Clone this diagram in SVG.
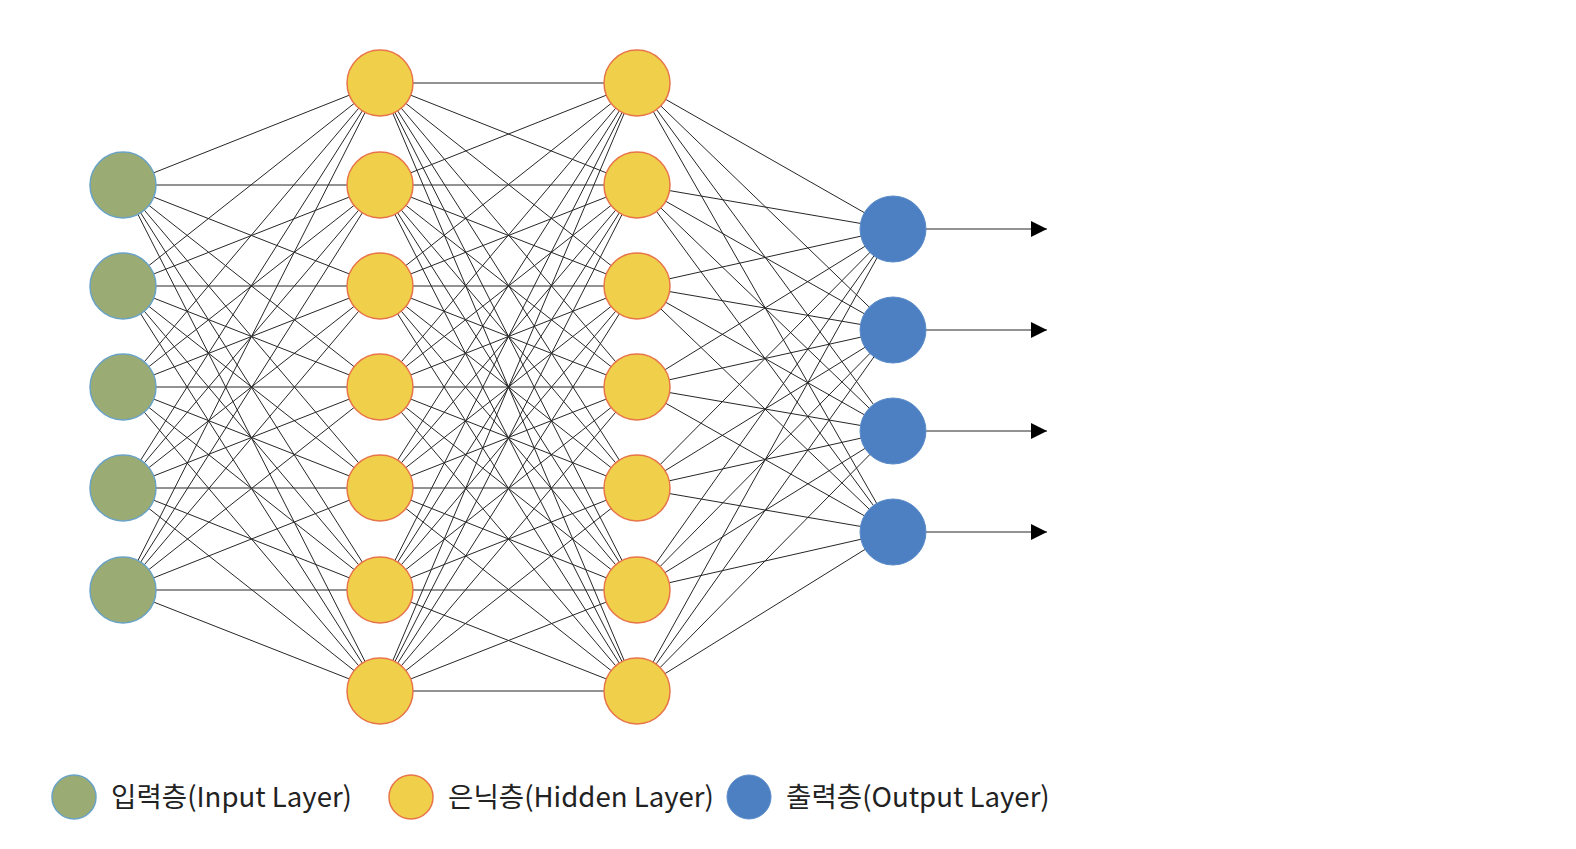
<svg xmlns="http://www.w3.org/2000/svg" width="1576" height="849" viewBox="0 0 1576 849">
<defs>
<style>
.in{fill:#9aab73;stroke:#6aa3c6;stroke-width:1.5}
.hid{fill:#f0d04a;stroke:#e8744a;stroke-width:1.5}
.out{fill:#4d80c3;stroke:#5a8bc8;stroke-width:1}
.e{stroke:#262626;stroke-width:1;fill:none}
.lbl{font-family:"Noto Sans CJK KR","Noto Sans",sans-serif;font-size:27.6px;fill:#222}
</style>
<marker id="arr" viewBox="0 0 10 10" refX="10" refY="5" markerWidth="16" markerHeight="16" markerUnits="userSpaceOnUse" orient="auto"><path d="M0,0 L10,5 L0,10 Z" fill="#000"/></marker>
</defs>
<rect width="1576" height="849" fill="#fff"/>
<g id="connectors">
<!-- input -> hidden1 -->
<path class="e" d="M123,185L380,83M123,185L380,185M123,185L380,286M123,185L380,387M123,185L380,488M123,185L380,590M123,185L380,691
M123,286L380,83M123,286L380,185M123,286L380,286M123,286L380,387M123,286L380,488M123,286L380,590M123,286L380,691
M123,387L380,83M123,387L380,185M123,387L380,286M123,387L380,387M123,387L380,488M123,387L380,590M123,387L380,691
M123,488L380,83M123,488L380,185M123,488L380,286M123,488L380,387M123,488L380,488M123,488L380,590M123,488L380,691
M123,590L380,83M123,590L380,185M123,590L380,286M123,590L380,387M123,590L380,488M123,590L380,590M123,590L380,691"/>
<!-- hidden1 -> hidden2 -->
<path class="e" d="M380,83L637,83M380,83L637,185M380,83L637,286M380,83L637,387M380,83L637,488M380,83L637,590M380,83L637,691
M380,185L637,83M380,185L637,185M380,185L637,286M380,185L637,387M380,185L637,488M380,185L637,590M380,185L637,691
M380,286L637,83M380,286L637,185M380,286L637,286M380,286L637,387M380,286L637,488M380,286L637,590M380,286L637,691
M380,387L637,83M380,387L637,185M380,387L637,286M380,387L637,387M380,387L637,488M380,387L637,590M380,387L637,691
M380,488L637,83M380,488L637,185M380,488L637,286M380,488L637,387M380,488L637,488M380,488L637,590M380,488L637,691
M380,590L637,83M380,590L637,185M380,590L637,286M380,590L637,387M380,590L637,488M380,590L637,590M380,590L637,691
M380,691L637,83M380,691L637,185M380,691L637,286M380,691L637,387M380,691L637,488M380,691L637,590M380,691L637,691"/>
<!-- hidden2 -> output -->
<path class="e" d="M637,83L893,229M637,83L893,330M637,83L893,431M637,83L893,532
M637,185L893,229M637,185L893,330M637,185L893,431M637,185L893,532
M637,286L893,229M637,286L893,330M637,286L893,431M637,286L893,532
M637,387L893,229M637,387L893,330M637,387L893,431M637,387L893,532
M637,488L893,229M637,488L893,330M637,488L893,431M637,488L893,532
M637,590L893,229M637,590L893,330M637,590L893,431M637,590L893,532
M637,691L893,229M637,691L893,330M637,691L893,431M637,691L893,532"/>
<!-- outputs -->
<path class="e" marker-end="url(#arr)" d="M926,229L1047,229"/>
<path class="e" marker-end="url(#arr)" d="M926,330L1047,330"/>
<path class="e" marker-end="url(#arr)" d="M926,431L1047,431"/>
<path class="e" marker-end="url(#arr)" d="M926,532L1047,532"/>
</g>
<g id="input-layer">
<circle id="in1" class="in" cx="123" cy="185" r="33"/>
<circle id="in2" class="in" cx="123" cy="286" r="33"/>
<circle id="in3" class="in" cx="123" cy="387" r="33"/>
<circle id="in4" class="in" cx="123" cy="488" r="33"/>
<circle id="in5" class="in" cx="123" cy="590" r="33"/>
</g>
<g id="hidden-layer-1">
<circle id="h1a" class="hid" cx="380" cy="83" r="33"/>
<circle id="h1b" class="hid" cx="380" cy="185" r="33"/>
<circle id="h1c" class="hid" cx="380" cy="286" r="33"/>
<circle id="h1d" class="hid" cx="380" cy="387" r="33"/>
<circle id="h1e" class="hid" cx="380" cy="488" r="33"/>
<circle id="h1f" class="hid" cx="380" cy="590" r="33"/>
<circle id="h1g" class="hid" cx="380" cy="691" r="33"/>
</g>
<g id="hidden-layer-2">
<circle id="h2a" class="hid" cx="637" cy="83" r="33"/>
<circle id="h2b" class="hid" cx="637" cy="185" r="33"/>
<circle id="h2c" class="hid" cx="637" cy="286" r="33"/>
<circle id="h2d" class="hid" cx="637" cy="387" r="33"/>
<circle id="h2e" class="hid" cx="637" cy="488" r="33"/>
<circle id="h2f" class="hid" cx="637" cy="590" r="33"/>
<circle id="h2g" class="hid" cx="637" cy="691" r="33"/>
</g>
<g id="output-layer">
<circle id="o1" class="out" cx="893" cy="229" r="33"/>
<circle id="o2" class="out" cx="893" cy="330" r="33"/>
<circle id="o3" class="out" cx="893" cy="431" r="33"/>
<circle id="o4" class="out" cx="893" cy="532" r="33"/>
</g>
<g id="legend">
<g id="legend-input"><circle class="in" cx="74" cy="797" r="22"/><text class="lbl" x="111" y="807">입력층(Input Layer)</text></g>
<g id="legend-hidden"><circle class="hid" cx="411" cy="797" r="22"/><text class="lbl" x="448" y="807">은닉층(Hidden Layer)</text></g>
<g id="legend-output"><circle class="out" cx="749" cy="797" r="22"/><text class="lbl" x="786" y="807">출력층(Output Layer)</text></g>
</g>
</svg>
